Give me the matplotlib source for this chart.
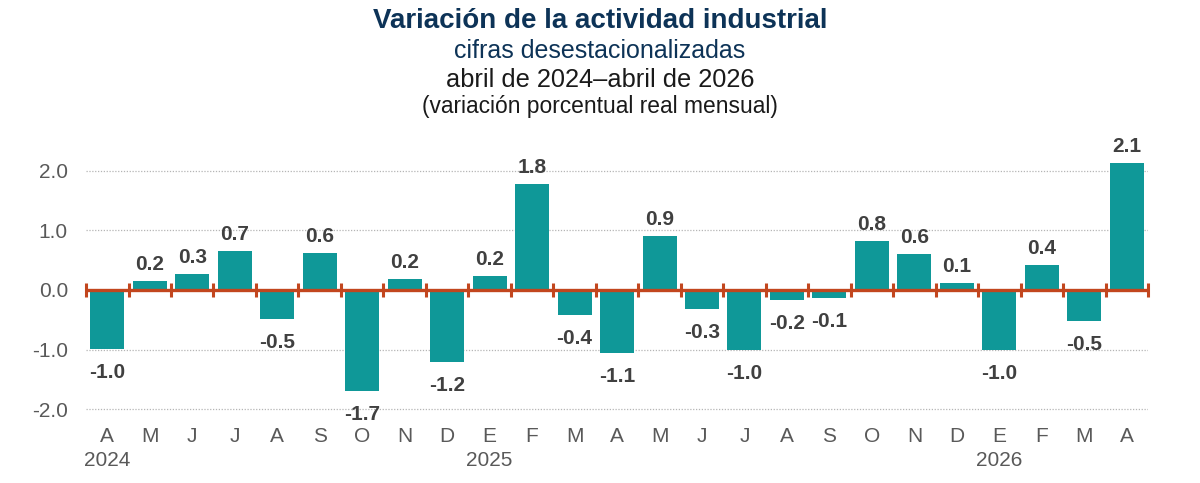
import matplotlib
matplotlib.use("Agg")
import matplotlib.pyplot as plt
import numpy as np

plt.rcParams['font.family'] = ['Liberation Sans', 'DejaVu Sans']

months = ["A", "M", "J", "J", "A", "S", "O", "N", "D", "E", "F", "M", "A",
          "M", "J", "J", "A", "S", "O", "N", "D", "E", "F", "M", "A"]
years = {0: "2024", 9: "2025", 21: "2026"}
values = [-0.99, 0.15, 0.27, 0.66, -0.49, 0.62, -1.70, 0.18, -1.21, 0.24, 1.78,
          -0.42, -1.06, 0.91, -0.32, -1.01, -0.17, -0.13, 0.82, 0.60, 0.12,
          -1.01, 0.42, -0.52, 2.13]
labels = ["-1.0", "0.2", "0.3", "0.7", "-0.5", "0.6", "-1.7", "0.2", "-1.2", "0.2",
          "1.8", "-0.4", "-1.1", "0.9", "-0.3", "-1.0", "-0.2", "-0.1", "0.8", "0.6",
          "0.1", "-1.0", "0.4", "-0.5", "2.1"]
yticks = [-2.0, -1.0, 0.0, 1.0, 2.0]

bar_color = "#0f9898"
axis_color = "#c2461e"
text_gray = "#404040"
tick_gray = "#595959"
navy = "#0d3357"

fig = plt.figure(figsize=(12, 4.83), dpi=100)
ax = fig.add_axes([0.0717, 1 - 427 / 483, 0.9567 - 0.0717, (427 - 147) / 483])

n = len(values)
x = np.arange(n)
ax.set_xlim(-0.5, n - 0.5)
ax.set_ylim(-2.3, 2.4)

for y in yticks:
    if y != 0:
        ax.axhline(y, color="#b5b5b5", lw=0.9, ls=(0, (1, 1.3)), zorder=0)

ax.bar(x, values, width=0.8, color=bar_color, zorder=2)

ax.axhline(0, color=axis_color, lw=2.4, zorder=3)
for b in np.arange(-0.5, n, 1.0):
    ax.plot([b, b], [-0.11, 0.11], color=axis_color, lw=2.2, zorder=3,
            solid_capstyle='butt', clip_on=False)

for xi, v, lab in zip(x, values, labels):
    if v >= 0:
        ax.annotate(lab, (xi, v), xytext=(0, 5), textcoords="offset points",
                    ha="center", va="bottom", fontsize=15, fontweight="bold",
                    color=text_gray)
    else:
        ax.annotate(lab, (xi, v), xytext=(0, -10), textcoords="offset points",
                    ha="center", va="top", fontsize=15, fontweight="bold",
                    color=text_gray)

ax.set_yticks(yticks)
ax.set_yticklabels([f"{t:.1f}" for t in yticks], fontsize=15, color=tick_gray)
ax.tick_params(axis="y", length=0, pad=13)
ax.set_xticks(x)
ax.set_xticklabels(months, fontsize=15, color=tick_gray)
ax.tick_params(axis="x", length=0, pad=0.3)
for i, yr in years.items():
    ax.text(i, -0.085, yr, transform=ax.get_xaxis_transform(), ha="center",
            va="top", fontsize=15, color=tick_gray)

for s in ax.spines.values():
    s.set_visible(False)

fig.text(0.5, 1 - 28 / 483, "Variación de la actividad industrial", ha="center",
         va="baseline", fontsize=20, fontweight="bold", color=navy)
fig.text(0.5, 1 - 58 / 483, "cifras desestacionalizadas", ha="center",
         va="baseline", fontsize=18, color=navy)
fig.text(0.5, 1 - 87 / 483, "abril de 2024–abril de 2026", ha="center",
         va="baseline", fontsize=18.3, color="#1a1a1a")
fig.text(0.5, 1 - 113 / 483, "(variación porcentual real mensual)", ha="center",
         va="baseline", fontsize=16.4, color="#1a1a1a")

fig.savefig("out.png", dpi=100, facecolor="white")
